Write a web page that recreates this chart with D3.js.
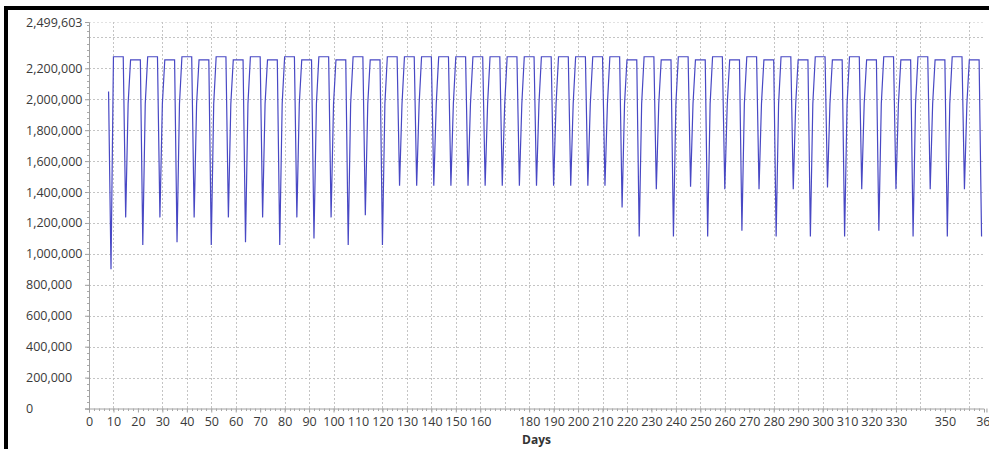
<!DOCTYPE html>
<html>
<head>
<meta charset="utf-8">
<script src="https://cdn.jsdelivr.net/npm/d3@7"></script>
<style>
body{margin:0;background:#fff;}
svg{display:block;font-family:"Open Sans",sans-serif;}
</style>
</head>
<body>
<svg id="svg" width="989" height="449"></svg>
<script>
// first partial week (days, values)
var leadDays=[8,9];
var leadValues=[2050000,900000];

// each week: Monday day, Mon-Fri level, Saturday low, Sunday value
var weekStart=[10,17,24,31,38,45,52,59,66,73,80,87,94,101,108,115,122,129,136,143,150,157,164,171,178,185,192,199,206,213,220,227,234,241,248,255,262,269,276,283,290,297,304,311,318,325,332,339,346,353,360];
var weekTop=[2275000,2255000,2275000,2255000,2275000,2255000,2275000,2255000,2275000,2255000,2275000,2255000,2275000,2255000,2275000,2255000,
  2275000,2275000,2275000,2275000,2275000,2275000,2275000,2275000,2275000,2275000,2275000,2275000,2275000,2275000,
  2255000,2275000,2255000,2275000,2255000,2275000,2255000,2275000,2255000,2275000,2255000,2275000,2255000,2275000,2255000,2275000,2255000,2275000,2255000,2275000,2255000];
var weekLow=[1236000,1057000,1236000,1075000,1236000,1057000,1236000,1075000,1236000,1057000,1236000,1100000,1236000,1057000,1250000,1057000,
  1440000,1440000,1440000,1440000,1440000,1440000,1440000,1440000,1440000,1440000,1440000,1440000,1440000,1300000,
  1112000,1418000,1112000,1435000,1112000,1418000,1150000,1418000,1112000,1418000,1112000,1430000,1112000,1418000,1150000,1418000,1112000,1418000,1112000,1418000,1112000];
var weekSun=[1970000,1970000,1970000,1970000,1970000,1970000,1970000,1970000,1970000,1970000,1970000,1970000,1970000,1970000,1970000,1970000,
  1970000,1970000,1970000,1970000,1970000,1970000,1970000,1970000,1970000,1970000,1970000,1970000,1970000,1970000,
  1970000,1970000,1970000,1970000,1970000,1970000,1970000,1970000,1970000,1970000,1970000,1970000,1970000,1970000,1970000,1970000,1970000,1970000,1970000,1970000];

var yMax=2499603;
var yTicks=[0,200000,400000,600000,800000,1000000,1200000,1400000,1600000,1800000,2000000,2200000,2499603];
var yGrid=[200000,400000,600000,800000,1000000,1200000,1400000,1600000,1800000,2000000,2200000,2400000,2499603];
var xLabelDays=[0,10,20,30,40,50,60,70,80,90,100,110,120,130,140,150,160,180,190,200,210,220,230,240,250,260,270,280,290,300,310,320,330,350,367];
var xLabelText=["0","10","20","30","40","50","60","70","80","90","100","110","120","130","140","150","160","180","190","200","210","220","230","240","250","260","270","280","290","300","310","320","330","350","360"];
var xGridDays=[10,30,40,50,60,80,90,100,120,130,140,150,160,170,180,190,200,210,220,240,250,260,280,290,300,310,330,340,360];

// build the daily series
var data=[];
leadDays.forEach((d,i)=>data.push([d,leadValues[i]]));
weekStart.forEach((s,i)=>{
    for(var k=0;k<5;k++) data.push([s+k,weekTop[i]]);
    data.push([s+5,weekLow[i]]);
    if(i<weekSun.length) data.push([s+6,weekSun[i]]);
});

var svg=d3.select("#svg");
var plotL=89,plotR=984,plotT=22,plotB=408.5;

var x=d3.scaleLinear().domain([0,366]).range([plotL,plotR]);
var y=d3.scaleLinear().domain([0,yMax]).range([plotB,plotT]);

// frame
svg.append("rect").attr("x",4).attr("y",6).attr("width",985).attr("height",4).attr("fill","#000");
svg.append("rect").attr("x",4).attr("y",6).attr("width",4).attr("height",443).attr("fill","#000");

// grid
svg.append("g").selectAll("line").data(yGrid).enter().append("line")
    .attr("x1",plotL).attr("x2",plotR)
    .attr("y1",d=>Math.round(y(d))+0.5).attr("y2",d=>Math.round(y(d))+0.5)
    .attr("stroke",d=>d==yMax?"#e2e2e2":"#c4c4c4")
    .attr("stroke-dasharray","2,2");
svg.append("g").selectAll("line").data(xGridDays).enter().append("line")
    .attr("x1",d=>Math.round(x(d))+0.5).attr("x2",d=>Math.round(x(d))+0.5)
    .attr("y1",plotT).attr("y2",plotB)
    .attr("stroke","#c4c4c4")
    .attr("stroke-dasharray","2,2");

// y axis, labels left-aligned like the original
var yAxis=svg.append("g").attr("transform","translate("+plotL+",0)")
    .call(d3.axisLeft(y).tickValues(yTicks).tickFormat(d3.format(",")).tickSize(4).tickPadding(3));
yAxis.selectAll(".tick text").attr("text-anchor","start").attr("x",26-plotL);
// minor y ticks
svg.append("g").selectAll("line").data(d3.range(0,yMax,40000)).enter().append("line")
    .attr("x1",plotL-2).attr("x2",plotL)
    .attr("y1",d=>Math.round(y(d))+0.5).attr("y2",d=>Math.round(y(d))+0.5)
    .attr("stroke","#aaa");

// x axis
var xAxis=svg.append("g").attr("transform","translate(0,"+plotB+")")
    .call(d3.axisBottom(x).tickValues(xLabelDays).tickFormat((d,i)=>xLabelText[i]).tickSize(4).tickPadding(5));
svg.append("g").selectAll("line").data(d3.range(2,366,2)).enter().append("line")
    .attr("x1",d=>Math.round(x(d))+0.5).attr("x2",d=>Math.round(x(d))+0.5)
    .attr("y1",plotB).attr("y2",plotB+2.5)
    .attr("stroke","#aaa");

[yAxis,xAxis].forEach(g=>{
    g.select(".domain").attr("stroke","#a0a0a0");
    g.selectAll(".tick line").attr("stroke","#a0a0a0");
    g.selectAll("text").attr("fill","#3a3a3a").style("font-family","'Open Sans',sans-serif").style("font-size","12.5px");
});

svg.append("text")
    .attr("x",(plotL+plotR)/2).attr("y",444)
    .attr("text-anchor","middle")
    .style("font-size","12px").style("font-weight","bold")
    .attr("fill","#333")
    .text("Days");

// series line
var line=d3.line().x(d=>x(d[0])).y(d=>y(d[1]));
svg.append("path")
    .datum(data)
    .attr("d",line)
    .attr("fill","none")
    .attr("stroke","#4848c4")
    .attr("stroke-width",1.2);
</script>
</body>
</html>
